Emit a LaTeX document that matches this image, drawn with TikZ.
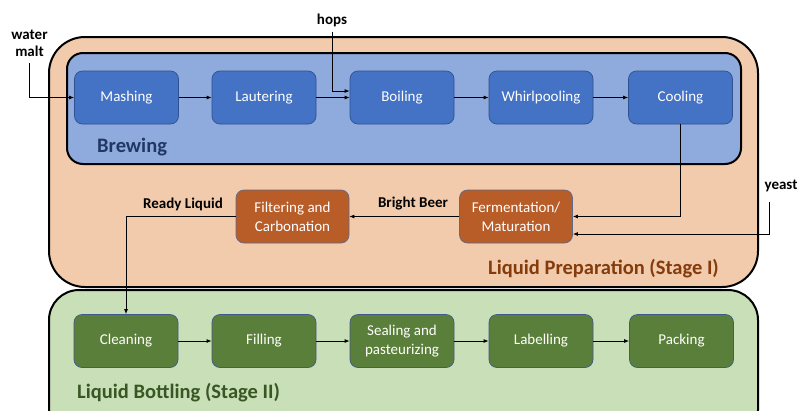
\documentclass[tikz,border=0pt]{standalone}
\usepackage{fontspec}
\setmainfont{Carlito}
\usetikzlibrary{arrows.meta,calc}

\definecolor{prepfill}{HTML}{F2CBAC}
\definecolor{brewfill}{HTML}{8FAADC}
\definecolor{bottlefill}{HTML}{C9DFB8}
\definecolor{bluestep}{HTML}{4472C4}
\definecolor{blueedge}{HTML}{2F528F}
\definecolor{orangestep}{HTML}{B85C28}
\definecolor{orangeedge}{HTML}{5F6A8A}
\definecolor{greenstep}{HTML}{5A7F3A}
\definecolor{greenedge}{HTML}{3F5A8A}
\definecolor{brewtext}{HTML}{203864}
\definecolor{preptext}{HTML}{843C0C}
\definecolor{bottletext}{HTML}{385723}

\tikzset{
  stepbox/.style={rounded corners=8pt, minimum width=104pt, minimum height=53pt,
    align=center, text=white, font=\fontsize{15}{19}\selectfont, line width=0.7pt},
  brewstep/.style={stepbox, fill=bluestep, draw=blueedge},
  prepstep/.style={stepbox, fill=orangestep, draw=orangeedge, minimum width=113pt},
  bottlestep/.style={stepbox, fill=greenstep, draw=greenedge},
  flow/.style={line width=0.9pt, -{Latex[length=5pt,width=4pt]}},
  tag/.style={font=\fontsize{15}{17}\selectfont\bfseries, align=center, inner sep=0pt},
  stagebox/.style={line width=2pt, draw=black},
  stagelabel/.style={font=\fontsize{20.5}{22}\selectfont\bfseries, inner sep=0pt}
}

\begin{document}
\begin{tikzpicture}[x=1pt,y=-1pt]
  \useasboundingbox (0,0) rectangle (798,410);
  \clip (0,0) rectangle (798,410);

  % stage containers
  \draw[stagebox, fill=prepfill, rounded corners=36pt] (49,37) rectangle (758,287);
  \draw[stagebox, fill=brewfill, rounded corners=16pt] (67,53) rectangle (741,164);
  \draw[stagebox, fill=bottlefill, rounded corners=30pt] (49,290) rectangle (758,440);

  % brewing steps
  \node[brewstep] (mash)  at (126.5,97.5) {Mashing};
  \node[brewstep] (laut)  at (264,97.5)   {Lautering};
  \node[brewstep] (boil)  at (402,97.5)   {Boiling};
  \node[brewstep] (whirl) at (541,97.5)   {Whirlpooling};
  \node[brewstep] (cool)  at (680.5,97.5) {Cooling};

  % liquid preparation steps
  \node[prepstep] (filt) at (292.5,216.5) {Filtering and\\Carbonation};
  \node[prepstep] (ferm) at (516,216.5)   {Fermentation/\\Maturation};

  % bottling steps
  \node[bottlestep] (clean) at (126,341)   {Cleaning};
  \node[bottlestep] (fill)  at (264,341)   {Filling};
  \node[bottlestep] (seal)  at (402,341)   {Sealing and\\pasteurizing};
  \node[bottlestep] (label) at (541,341)   {Labelling};
  \node[bottlestep] (pack)  at (681.5,341) {Packing};

  % stage labels
  \node[stagelabel, text=brewtext, anchor=west] (brewlbl) at (97,147) {Brewing};
  \node[stagelabel, text=preptext, anchor=east] (preplbl) at (719,269) {Liquid Preparation (Stage I)};
  \node[stagelabel, text=bottletext, anchor=west] (bottlelbl) at (77,393) {Liquid Bottling (Stage II)};

  % inputs and intermediate products
  \node[tag] (inputs) at (29.5,43.5) {water\\malt};
  \node[tag] (hops)   at (332,20)    {hops};
  \node[tag] (yeast)  at (781,186)   {yeast};
  \node[tag] (bright) at (413,204)   {Bright Beer};
  \node[tag] (ready)  at (183,204)   {Ready Liquid};
  \coordinate (yeastin) at (769,202);

  % flow connectors
  \draw[flow] ([yshift=-6pt]inputs.south) |- (mash.west);
  \draw[flow] (mash) -- (laut);
  \draw[flow] (laut) -- (boil);
  \draw[flow] ([yshift=-5pt]hops.south) |- ([yshift=6.5pt]boil.west);
  \draw[flow] (boil) -- (whirl);
  \draw[flow] (whirl) -- (cool);
  \draw[flow] (cool.south) |- (ferm.east);
  \draw[flow] (yeastin) |- ([yshift=-17.5pt]ferm.east);
  \draw[flow] (ferm) -- (filt);
  \draw[flow] (filt.west) -| (clean.north);
  \draw[flow] (clean) -- (fill);
  \draw[flow] (fill) -- (seal);
  \draw[flow] (seal) -- (label);
  \draw[flow] (label) -- (pack);
\end{tikzpicture}
\end{document}
